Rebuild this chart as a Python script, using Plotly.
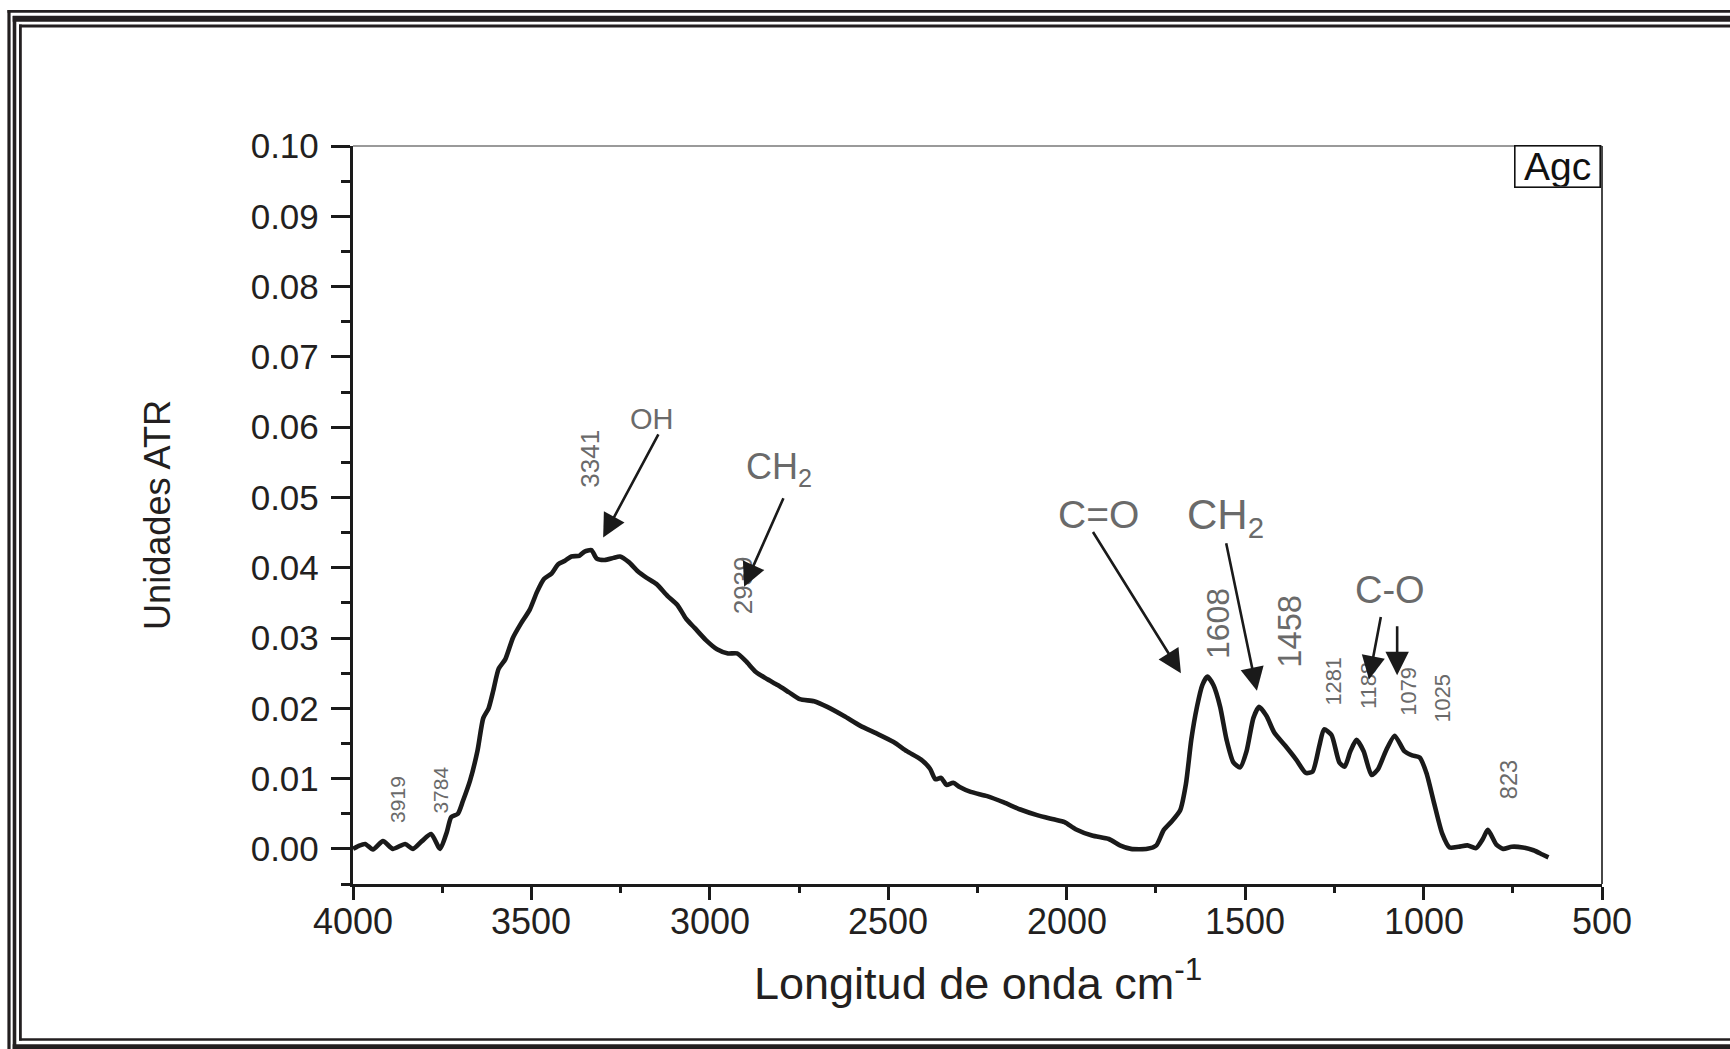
import glob
import plotly.graph_objects as go

# ---------------- data ----------------
wavenumber = [4000, 3985, 3966, 3944, 3916, 3888, 3854, 3832, 3807, 3781, 3756, 3737, 3725, 3706,
              3692, 3672, 3651, 3635, 3620, 3607, 3592, 3573, 3552, 3530, 3505, 3484, 3465, 3443,
              3425, 3406, 3388, 3366, 3351, 3332, 3317, 3295, 3270, 3252, 3227, 3202, 3178, 3150,
              3119, 3091, 3066, 3042, 3011, 2980, 2949, 2924, 2899, 2872, 2841, 2810, 2779, 2748,
              2708, 2671, 2624, 2578, 2532, 2485, 2448, 2408, 2383, 2368, 2352, 2337, 2318, 2300,
              2269, 2223, 2176, 2130, 2083, 2037, 2006, 1975, 1929, 1882, 1851, 1820, 1774, 1749,
              1728, 1706, 1682, 1666, 1651, 1635, 1620, 1606, 1589, 1570, 1552, 1533, 1514, 1496,
              1477, 1461, 1440, 1419, 1388, 1357, 1330, 1311, 1292, 1279, 1258, 1236, 1221, 1205,
              1188, 1168, 1146, 1128, 1106, 1081, 1054, 1032, 1011, 992, 970, 948, 927, 902, 877,
              853, 834, 820, 796, 777, 753, 722, 692, 667, 650]
absorbance = [0.0000, 0.0004, 0.0007, -0.0001, 0.0011, 0.0000, 0.0007, 0.0000, 0.0011, 0.0021,
              0.0000, 0.0024, 0.0045, 0.0050, 0.0068, 0.0097, 0.0140, 0.0186, 0.0200, 0.0225,
              0.0256, 0.0270, 0.0300, 0.0320, 0.0340, 0.0366, 0.0384, 0.0392, 0.0405, 0.0410,
              0.0416, 0.0417, 0.0423, 0.0425, 0.0413, 0.0411, 0.0414, 0.0416, 0.0408, 0.0395,
              0.0386, 0.0377, 0.0360, 0.0347, 0.0327, 0.0314, 0.0297, 0.0284, 0.0278, 0.0278,
              0.0267, 0.0252, 0.0242, 0.0233, 0.0223, 0.0213, 0.0210, 0.0202, 0.0189, 0.0175,
              0.0164, 0.0152, 0.0139, 0.0127, 0.0114, 0.0099, 0.0101, 0.0091, 0.0094, 0.0088,
              0.0081, 0.0075, 0.0066, 0.0056, 0.0048, 0.0042, 0.0038, 0.0028, 0.0019, 0.0014,
              0.0005, 0.0000, 0.0000, 0.0005, 0.0027, 0.0039, 0.0055, 0.0092, 0.0155, 0.0202,
              0.0233, 0.0245, 0.0233, 0.0202, 0.0155, 0.0123, 0.0116, 0.0139, 0.0186, 0.0202,
              0.0189, 0.0166, 0.0147, 0.0127, 0.0108, 0.0110, 0.0147, 0.0170, 0.0162, 0.0123,
              0.0117, 0.0139, 0.0155, 0.0139, 0.0105, 0.0113, 0.0139, 0.0161, 0.0139, 0.0133,
              0.0130, 0.0108, 0.0064, 0.0022, 0.0002, 0.0003, 0.0005, 0.0001, 0.0014, 0.0027,
              0.0006, 0.0000, 0.0003, 0.0002, -0.0002, -0.0008, -0.0012]

# peak labels (rotated numbers)
peak_labels = ["3919", "3784", "3341", "2939", "1608", "1458", "1281", "1188", "1079", "1025", "823"]
peak_x = [3874, 3756, 3336, 2907, 1576, 1374, 1251, 1156, 1041, 948, 761]
peak_y = [0.0071, 0.0083, 0.0555, 0.0375, 0.0320, 0.0309, 0.0238, 0.0233, 0.0225, 0.0214, 0.0099]

# group labels
group_labels = ["OH", "CH<sub>2</sub>", "C=O", "CH<sub>2</sub>", "C-O"]
group_x = [3162, 2806, 1912, 1556, 1094]
group_y = [0.0612, 0.0541, 0.0476, 0.0472, 0.0368]

# arrows: tail (x,y) -> head (x,y)
arrow_tail_x = [3142, 2792, 1929, 1554, 1119, 1074]
arrow_tail_y = [0.0592, 0.0501, 0.0453, 0.0437, 0.0332, 0.0319]
arrow_head_x = [3299, 2904, 1680, 1467, 1153, 1074]
arrow_head_y = [0.0443, 0.0373, 0.0250, 0.0225, 0.0241, 0.0247]

x_ticks = [4000, 3500, 3000, 2500, 2000, 1500, 1000, 500]
x_tick_labels = ["4000", "3500", "3000", "2500", "2000", "1500", "1000", "500"]
y_ticks = [0.00, 0.01, 0.02, 0.03, 0.04, 0.05, 0.06, 0.07, 0.08, 0.09, 0.10]
y_tick_labels = ["0.00", "0.01", "0.02", "0.03", "0.04", "0.05", "0.06", "0.07", "0.08", "0.09", "0.10"]

# ---------------- layout geometry ----------------
W, H = 1730, 1049
ML, MR, MT, MB = 353, 128, 146, 165
PW, PH = W - ML - MR, H - MT - MB

def px(xp):
    return (xp - ML) / PW

def py(yp):
    return (H - MB - yp) / PH

narrow_ok = bool(glob.glob('/usr/share/fonts/**/LiberationSansNarrow*', recursive=True))
NARROW = "Liberation Sans Narrow" if narrow_ok else "Liberation Sans"
NK = 1.0 if narrow_ok else 0.84
SANS = "Liberation Sans, Arial, sans-serif"
DARK = "#231f20"
GRAY = "#6a6a6a"

fig = go.Figure()
fig.add_trace(go.Scatter(x=wavenumber, y=absorbance, mode="lines",
                         line=dict(color="#1a1a1a", width=4.6, shape="spline", smoothing=0.6),
                         showlegend=False, hoverinfo="skip"))

annotations = []
peak_sizes = [25, 25, 31, 31, 38, 39, 26, 26, 26, 26, 28]
for t, x, y, s in zip(peak_labels, peak_x, peak_y, peak_sizes):
    annotations.append(dict(x=x, y=y, xref="x", yref="y", text=t, showarrow=False,
                            textangle=-90, font=dict(family=NARROW, size=s * NK, color=GRAY)))
group_sizes = [29, 36, 39, 42, 38]
for t, x, y, s in zip(group_labels, group_x, group_y, group_sizes):
    annotations.append(dict(x=x, y=y, xref="x", yref="y", text=t, showarrow=False,
                            font=dict(family=SANS, size=s, color=GRAY)))
for tx, ty, hx, hy in zip(arrow_tail_x, arrow_tail_y, arrow_head_x, arrow_head_y):
    annotations.append(dict(x=hx, y=hy, ax=tx, ay=ty, xref="x", yref="y", axref="x", ayref="y",
                            text="", showarrow=True, arrowhead=2, arrowsize=1.8,
                            arrowwidth=2.6, arrowcolor="#1a1a1a"))

# x tick labels placed on the axis scale (closer to the axis than plotly's default)
for v, t in zip(x_ticks, x_tick_labels):
    annotations.append(dict(x=v, y=py(921), xref="x", yref="paper", text=t, showarrow=False,
                            xanchor="center", yanchor="middle",
                            font=dict(family=SANS, size=36, color=DARK)))

# axis titles
annotations.append(dict(x=0.5, y=py(980), xref="paper", yref="paper",
                        text="Longitud de onda cm<sup>-1</sup>", showarrow=False,
                        xanchor="center", yanchor="middle",
                        font=dict(family=SANS, size=45, color=DARK)))
annotations.append(dict(x=px(157), y=0.5, xref="paper", yref="paper", text="Unidades ATR",
                        showarrow=False, textangle=-90, xanchor="center", yanchor="middle",
                        font=dict(family=NARROW, size=43 * NK, color=DARK)))
# sample label box
annotations.append(dict(x=px(1601), y=py(145), xref="paper", yref="paper", text="Agc",
                        showarrow=False, xanchor="right", yanchor="top", width=84, height=40,
                        borderpad=0, bordercolor="#111", borderwidth=1.6, bgcolor="white",
                        font=dict(family=SANS, size=39, color="#111")))

shapes = []
FRAME = "#231f20"
def hline(yp, x0p, x1p, w):
    shapes.append(dict(type="line", xref="paper", yref="paper", x0=px(x0p), x1=px(x1p),
                       y0=py(yp), y1=py(yp), line=dict(color=FRAME, width=w), layer="above"))
def vline(xp, y0p, y1p, w):
    shapes.append(dict(type="line", xref="paper", yref="paper", x0=px(xp), x1=px(xp),
                       y0=py(y0p), y1=py(y1p), line=dict(color=FRAME, width=w), layer="above"))

# triple decorative frame (continues beyond right and bottom edges)
vline(9, 10, 1060, 3.2)
hline(11.3, 7.5, 1760, 2.8)
vline(14.5, 16, 1060, 3.6)
hline(18.7, 12.7, 1760, 6)
hline(1046.8, 12.7, 1760, 5)
vline(20.4, 24.5, 1040.5, 2.8)
hline(26, 19, 1760, 3.2)
hline(1039.5, 19, 1760, 2.6)

# plot box top (gray) and right (dark)
shapes.append(dict(type="line", xref="paper", yref="paper", x0=0, x1=1, y0=1, y1=1,
                   line=dict(color="#9a9a9a", width=1.8)))
shapes.append(dict(type="line", xref="paper", yref="paper", x0=1, x1=1, y0=0, y1=1,
                   line=dict(color="#333", width=1.8)))

fig.update_layout(
    width=W, height=H,
    margin=dict(l=ML, r=MR, t=MT, b=MB, pad=0),
    paper_bgcolor="white", plot_bgcolor="white",
    showlegend=False,
    annotations=annotations,
    shapes=shapes,
    xaxis=dict(range=[4000, 500], tickvals=x_ticks, showticklabels=False,
               showline=True, linecolor="#1a1a1a", linewidth=3.4,
               ticks="outside", ticklen=13, tickwidth=3, tickcolor="#1a1a1a",
               minor=dict(ticks="outside", ticklen=6, tickwidth=2.6, dtick=250,
                          tickcolor="#1a1a1a", showgrid=False),
               showgrid=False, zeroline=False),
    yaxis=dict(range=[-0.005, 0.10], tickvals=y_ticks, ticktext=y_tick_labels,
               showline=True, linecolor="#1a1a1a", linewidth=3.4,
               ticks="outside", ticklen=19, tickwidth=3, tickcolor="#1a1a1a",
               minor=dict(ticks="outside", ticklen=9, tickwidth=2.6, dtick=0.005,
                          tick0=-0.005, tickcolor="#1a1a1a", showgrid=False),
               showgrid=False, zeroline=False, ticklabelstandoff=5,
               tickfont=dict(family=SANS, size=35, color=DARK)),
)

fig.write_html("out.html")
